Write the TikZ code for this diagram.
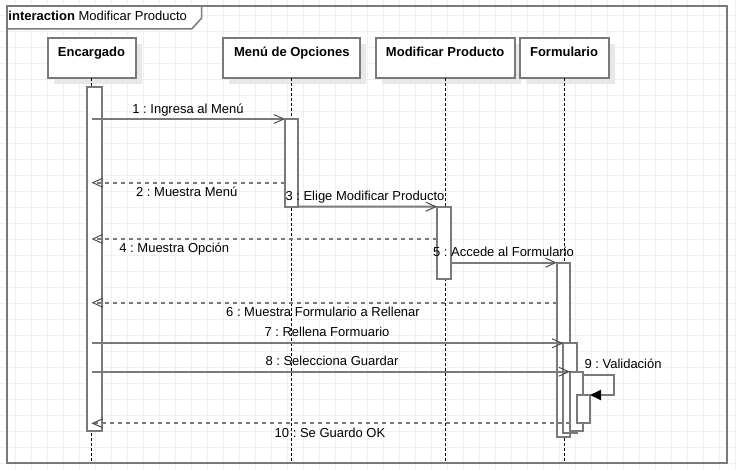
\documentclass[tikz,border=0pt]{standalone}
\usepackage{fontspec}
\setmainfont{Liberation Sans}
\usetikzlibrary{arrows.meta,shadows,calc}
\definecolor{lgrey}{HTML}{7A7A7A}
\definecolor{gridc}{HTML}{F0F0F0}
\definecolor{shad}{HTML}{E8E8E8}
\frenchspacing
\tikzset{
  gridline/.style={gridc, line width=1.3pt},
  framebox/.style={lgrey, line width=2pt},
  head/.style={draw=lgrey, line width=2pt, fill=white, minimum height=40pt,
    inner sep=0pt, outer sep=0pt, text height=18.2pt, text depth=21.8pt,
    font=\fontsize{13}{15}\selectfont\bfseries,
    drop shadow={shadow xshift=6pt, shadow yshift=-6pt, fill=shad, draw=none, opacity=1}},
  actbar/.style={draw=lgrey, line width=2pt, fill=white, inner sep=0pt, outer sep=0pt, anchor=north west},
  lifeline/.style={black, line width=1pt, dash pattern=on 3pt off 2pt},
  msg/.style={lgrey, line width=2pt, -{Straight Barb[length=10pt,width=9pt,line width=1pt,color=black!70]}},
  ret/.style={msg, dash pattern=on 4pt off 4pt},
  selfmsg/.style={lgrey, line width=2pt, -{Triangle[length=11pt,width=10pt,color=black]}},
  lbl/.style={anchor=base, inner sep=0pt, font=\fontsize{13}{15}\selectfont},
}
\begin{document}
\begin{tikzpicture}[x=1pt, y=-1pt, font=\fontsize{13}{15}\selectfont]
\useasboundingbox (0,0) rectangle (736,470);
\fill[white] (0,0) rectangle (736,470);
% grid
\foreach \i in {1,...,46} \draw[gridline] (16*\i-0.7,0) -- (16*\i-0.7,470);
\foreach \j in {1,...,29} \draw[gridline] (0,16*\j-0.3) -- (736,16*\j-0.3);
% frame and tab
\draw[framebox, line width=1.5pt, fill=white] (7,6) -- (201.7,6) -- (201.7,18) -- (191.7,29) -- (7,29);
\draw[framebox] (7,6) rectangle (726.7,462.7);
\node[anchor=base west, inner sep=0pt] (title) at (8.3,21) {\textbf{interaction} Modificar Producto};
% heads
\node[head, minimum width=88pt] (h1) at (91.5,58.3) {Encargado};
\node[head, minimum width=137pt] (h2) at (291.8,58.3) {Menú de Opciones};
\node[head, minimum width=139pt] (h3) at (445.2,58.3) {Modificar Producto};
\node[head, minimum width=89pt] (h4) at (564,58.3) {Formulario};
% message levels
\coordinate (bot) at (0,461);
\coordinate (m2) at (0,182.7);
\coordinate (m4) at (0,239);
\coordinate (m6) at (0,302.7);
\coordinate (m9) at (0,375);
\coordinate (m10) at (0,423.3);
% lifelines
\draw[lifeline] (h1.south) -- (h1.south |- bot);
\draw[lifeline] (h2.south) -- (h2.south |- bot);
\draw[lifeline] (h3.south) -- (h3.south |- bot);
\draw[lifeline] (h4.south) -- (h4.south |- bot);
% activation bars
\node[actbar, minimum width=15pt, minimum height=344pt] (b0) at (86.7,86.7) {};
\node[actbar, minimum width=12.7pt, minimum height=87.7pt] (b1) at (285,119) {};
\node[actbar, minimum width=14pt, minimum height=72.3pt] (b2) at (437,206.7) {};
\node[actbar, minimum width=13.3pt, minimum height=174.6pt] (b3) at (556.7,262.7) {};
\node[actbar, minimum width=13.4pt, minimum height=90pt] (b4) at (563.3,343.3) {};
\node[actbar, minimum width=13.3pt, minimum height=59.3pt] (b5) at (570,371.7) {};
\node[actbar, minimum width=12.7pt, minimum height=28.3pt] (b6) at (577.3,395) {};
% messages
\draw[msg] (h1.south |- b1.north west) -- (b1.north west);
\draw[ret] (b1.west |- m2) -- (h1.south |- m2);
\draw[msg] (b1.south east) -- (b2.north west);
\draw[ret] (b2.west |- m4) -- (h1.south |- m4);
\draw[msg] (b2.east |- b3.north west) -- (b3.north west);
\draw[ret] (b3.west |- m6) -- (h1.south |- m6);
\draw[msg] (h1.south |- b4.north west) -- (b4.north west);
\draw[msg] (h1.south |- b5.north west) -- (b5.north west);
\draw[selfmsg] (b5.east |- m9) -- ++(30.7,0) |- (b6.north east);
\draw[ret] (b5.west |- m10) -- (h1.south |- m10);
% labels
\node[lbl] (l1) at (188,113.3) {1 : Ingresa al Menú};
\node[lbl] (l2) at (186.7,196.7) {2 : Muestra Menú};
\node[lbl] (l3) at (365,200.7) {3 : Elige Modificar Producto};
\node[lbl] (l4) at (174.3,252.7) {4 : Muestra Opción};
\node[lbl] (l5) at (503.5,256.7) {5 : Accede al Formulario};
\node[lbl] (l6) at (323,316.7) {6 : Muestra Formulario a Rellenar};
\node[lbl] (l7) at (327,336.7) {7 : Rellena Formuario};
\node[lbl] (l8) at (332,365) {8 : Selecciona Guardar};
\node[lbl, anchor=base west] (l9) at (584.3,368.3) {9 : Validación};
\node[lbl] (l10) at (330,437.3) {10 : Se Guardo OK};
\end{tikzpicture}
\end{document}
